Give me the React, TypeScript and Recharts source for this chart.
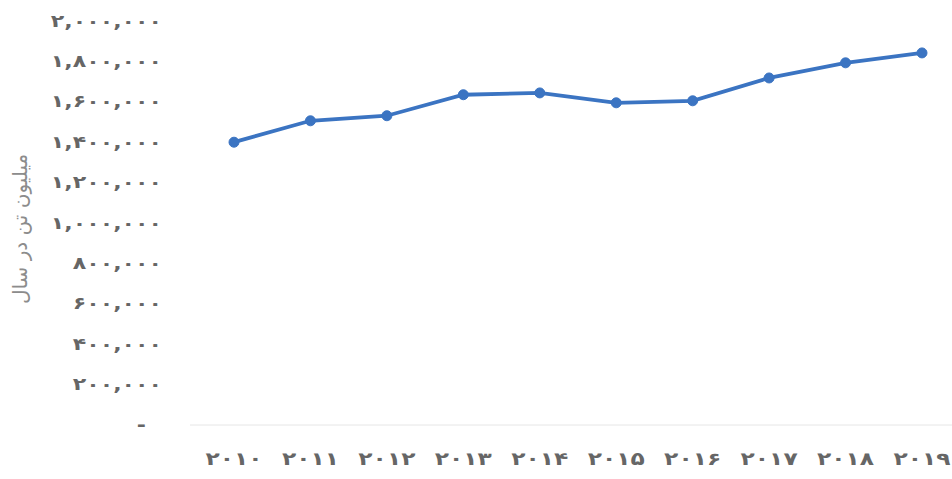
import { LineChart, Line, XAxis, YAxis } from "recharts";

const years = ["۲۰۱۰", "۲۰۱۱", "۲۰۱۲", "۲۰۱۳", "۲۰۱۴", "۲۰۱۵", "۲۰۱۶", "۲۰۱۷", "۲۰۱۸", "۲۰۱۹"];
const production = [1400000, 1506000, 1531000, 1635000, 1644000, 1595000, 1605000, 1718000, 1793000, 1842000];
const yTicks = [0, 200000, 400000, 600000, 800000, 1000000, 1200000, 1400000, 1600000, 1800000, 2000000];
const yTitle = "میلیون تن در سال";

const rows = years.map((year, i) => ({ year, value: production[i] }));

const faDigits = "۰۱۲۳۴۵۶۷۸۹";
const toFa = (s: string) => s.replace(/[0-9]/g, (d) => faDigits[Number(d)]);
const fmtY = (v: number) => (v === 0 ? "-" : toFa(v.toLocaleString("en-US")));

const FONT = "DejaVu Sans";
const TICK_COLOR = "#666";
const LINE_COLOR = "#3b74c2";

// letter-spacing is ignored on the Persian digits, so widen with a horizontal scale
function YTick({ x, y, payload }: any) {
  const v = payload.value as number;
  return (
    <g transform={`translate(${x - (v === 0 ? 16 : 0)},${y})`}>
      <text
        transform="scale(1.3,1)"
        textAnchor="end"
        dominantBaseline="central"
        fontFamily={FONT}
        fontSize={17}
        fontWeight="bold"
        fill={TICK_COLOR}
      >
        {fmtY(v)}
      </text>
    </g>
  );
}

function XTick({ x, y, payload }: any) {
  return (
    <g transform={`translate(${x},${y})`}>
      <text
        transform="scale(1.3,1)"
        textAnchor="middle"
        dominantBaseline="central"
        fontFamily={FONT}
        fontSize={18}
        fontWeight="bold"
        fill={TICK_COLOR}
      >
        {payload.value}
      </text>
    </g>
  );
}

function renderYLabel() {
  return (
    <text
      x={21}
      y={229}
      transform="rotate(-90 21 229)"
      textAnchor="middle"
      dominantBaseline="middle"
      fontFamily={FONT}
      fontSize={20}
      fill="#8c8c8c"
    >
      {yTitle}
    </text>
  );
}

export default function App() {
  return (
    <div style={{ position: "absolute", left: 0, top: 0, width: 952, height: 479, background: "#fff" }}>
      <LineChart width={952} height={479} data={rows} margin={{ top: 21, right: 0, bottom: 0, left: 0 }}>
        <XAxis
          dataKey="year"
          height={54}
          padding={{ left: 44, right: 30 }}
          axisLine={{ stroke: "#e6e6e6" }}
          tickLine={false}
          tickSize={0}
          tickMargin={34}
          tick={<XTick />}
          interval={0}
        />
        <YAxis
          width={190}
          domain={[0, 2000000]}
          ticks={yTicks}
          axisLine={false}
          tickLine={false}
          tickSize={0}
          tickMargin={28}
          tick={<YTick />}
          label={renderYLabel}
        />
        <Line
          type="linear"
          dataKey="value"
          stroke={LINE_COLOR}
          strokeWidth={3.8}
          dot={{ r: 5, fill: LINE_COLOR, stroke: LINE_COLOR, strokeWidth: 1 }}
          activeDot={false}
          isAnimationActive={false}
        />
      </LineChart>
    </div>
  );
}
